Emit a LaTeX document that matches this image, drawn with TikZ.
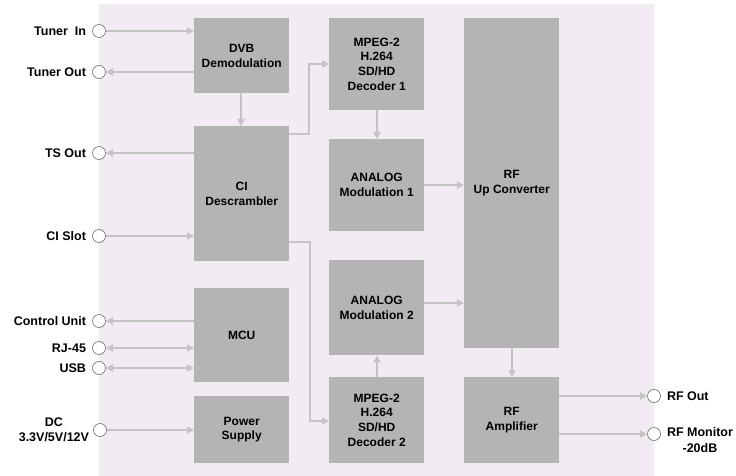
\documentclass[tikz,border=0pt]{standalone}
\usepackage{fontspec}
\setmainfont{Liberation Sans}
\usetikzlibrary{arrows.meta}
\definecolor{bgc}{RGB}{242,235,244}
\definecolor{blk}{RGB}{180,180,180}
\definecolor{lnc}{RGB}{196,196,196}
\definecolor{circc}{RGB}{110,110,110}
\begin{document}
\begin{tikzpicture}[x=1pt,y=-1pt,
  blockbox/.style={fill=blk, draw=none, minimum width=95pt, anchor=north west, align=center,
    font=\bfseries\fontsize{12}{14.7}\selectfont, inner sep=0pt},
  portc/.style={circle, draw=circc, fill=white, minimum size=13pt, inner sep=0pt, line width=0.6pt},
  lbl/.style={font=\bfseries\fontsize{12.5}{15.5}\selectfont, inner sep=0pt, align=center},
  conn/.style={draw=lnc, line width=2pt, arrows={-Triangle[length=7pt,width=7pt]}},
  conn2/.style={draw=lnc, line width=2pt, arrows={Triangle[length=7pt,width=7pt]-Triangle[length=7pt,width=7pt]}}]
\useasboundingbox (0,0) rectangle (736,476);
\fill[bgc] (99,4) rectangle (654,476);
% blocks
\node[blockbox, minimum height=75pt] (dvb) at (194,18) {DVB\\Demodulation};
\node[blockbox, minimum height=135pt] (ci) at (194,126) {CI\\Descrambler};
\node[blockbox, minimum height=94pt] (mcu) at (194,288) {MCU};
\node[blockbox, minimum height=67pt] (ps) at (194,396) {Power\\Supply};
\node[blockbox, minimum height=92pt] (dec1) at (329,18) {MPEG-2\\H.264\\SD/HD\\Decoder 1};
\node[blockbox, minimum height=92pt] (am1) at (329,139) {ANALOG\\Modulation 1};
\node[blockbox, minimum height=95pt] (am2) at (329,260) {ANALOG\\Modulation 2};
\node[blockbox, minimum height=86pt] (dec2) at (329,377) {MPEG-2\\H.264\\SD/HD\\Decoder 2};
\node[blockbox, minimum height=330pt] (rfuc) at (464,18) {RF\\Up Converter};
\node[blockbox, minimum height=86pt] (rfa) at (464,377) {RF\\Amplifier};
% ports
\node[portc] (ptin) at (99,31) {};
\node[portc] (ptout) at (99,72) {};
\node[portc] (pts) at (99,153) {};
\node[portc] (pci) at (99,236) {};
\node[portc] (pcu) at (99,321) {};
\node[portc] (prj) at (99,348) {};
\node[portc] (pusb) at (99,368) {};
\node[portc] (pdc) at (100,430) {};
\node[portc] (prfo) at (654,396) {};
\node[portc] (prfm) at (654,434) {};
% labels
\node[lbl, anchor=east] (ltin) at ([xshift=-6pt]ptin.west) {Tuner~~In};
\node[lbl, anchor=east] (ltout) at ([xshift=-6pt]ptout.west) {Tuner Out};
\node[lbl, anchor=east] (lts) at ([xshift=-6pt]pts.west) {TS Out};
\node[lbl, anchor=east] (lci) at ([xshift=-6pt]pci.west) {CI Slot};
\node[lbl, anchor=east] (lcu) at ([xshift=-6pt]pcu.west) {Control Unit};
\node[lbl, anchor=east] (lrj) at ([xshift=-6pt]prj.west) {RJ-45};
\node[lbl, anchor=east] (lusb) at ([xshift=-6pt]pusb.west) {USB};
\node[lbl, anchor=east] (ldc) at ([xshift=-4pt]pdc.west) {DC\\3.3V/5V/12V};
\node[lbl, anchor=west] (lrfo) at ([xshift=6pt]prfo.east) {RF Out};
\node[lbl, anchor=north west] (lrfm) at ([xshift=6pt,yshift=6.5pt]prfm.east) {RF Monitor\\-20dB};
% connectors
\draw[conn] (ptin) -- (ptin -| dvb.west);
\draw[conn] (ptout -| dvb.west) -- (ptout);
\draw[conn] (pts -| ci.west) -- (pts);
\draw[conn] (pci) -- (pci -| ci.west);
\draw[conn] (pcu -| mcu.west) -- (pcu);
\draw[conn2] (prj) -- (prj -| mcu.west);
\draw[conn2] (pusb) -- (pusb -| mcu.west);
\draw[conn] (pdc) -- (pdc -| ps.west);
\draw[conn] (dvb.south -| 241,0) -- (ci.north -| 241,0);
\coordinate (k1) at (309,134);
\coordinate (k2) at (309,64);
\draw[conn] (ci.east |- k1) -- (k1) -- (k2) -- (k2 -| dec1.west);
\coordinate (k3) at (310,242);
\coordinate (k4) at (310,421);
\draw[conn] (ci.east |- k3) -- (k3) -- (k4) -- (k4 -| dec2.west);
\draw[conn] (dec1.south -| 377,0) -- (am1.north -| 377,0);
\draw[conn] (dec2.north -| 377,0) -- (am2.south -| 377,0);
\coordinate (k5) at (424,185);
\draw[conn] (k5) -- (k5 -| rfuc.west);
\coordinate (k6) at (424,303);
\draw[conn] (k6) -- (k6 -| rfuc.west);
\draw[conn] (rfuc.south -| 512,0) -- (rfa.north -| 512,0);
\draw[conn] (prfo -| rfa.east) -- (prfo);
\draw[conn] (prfm -| rfa.east) -- (prfm);
\end{tikzpicture}
\end{document}
